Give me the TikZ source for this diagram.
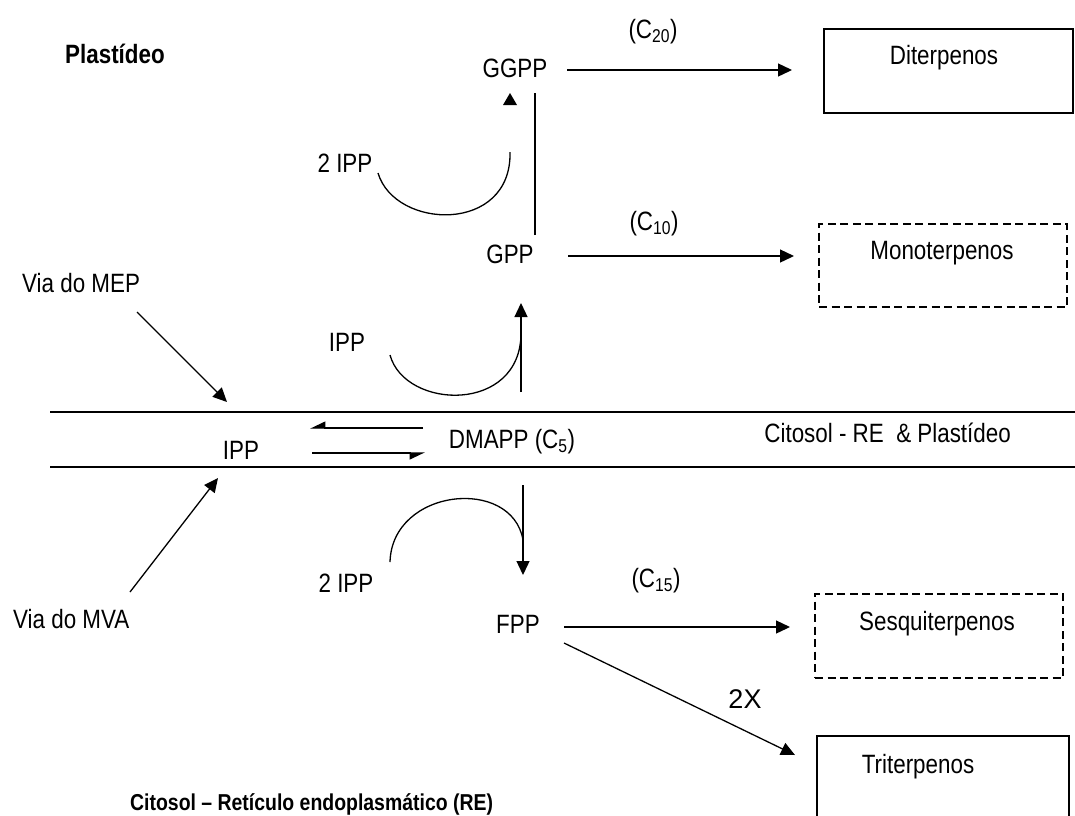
\documentclass[tikz,border=0pt]{standalone}
\usepackage{fontspec}
\setmainfont{Liberation Sans}[FakeStretch=0.845]
\newfontfamily\widefont{Liberation Sans}
\usetikzlibrary{arrows.meta}
\tikzset{
  lbl/.style={inner sep=0pt, anchor=base, font=\fontsize{26.5}{30}\selectfont},
  blbl/.style={inner sep=0pt, anchor=base west, font=\fontsize{26.5}{30}\selectfont\bfseries},
  ln/.style={line width=1.3pt},
  arr/.style={line width=1.3pt, -{Triangle[length=14pt,width=13pt]}},
  harpL/.style={line width=1.3pt, -{Triangle[length=14pt,width=13pt,harpoon,swap]}},
  solidbox/.style={draw, line width=1.6pt},
  dashbox/.style={draw, line width=2pt, dash pattern=on 8pt off 4.5pt},
}
\begin{document}
\begin{tikzpicture}[x=1pt,y=1pt]
\path[use as bounding box] (0,0) rectangle (1075,-815);
\clip (0,0) rectangle (1075,-815);

% region labels
\node[blbl] (plast) at (65,-63) {Plastídeo};
\node[blbl, font=\fontsize{23}{27}\selectfont\bfseries] (cytre) at (130,-810) {Citosol – Retículo endoplasmático (RE)};

% membrane band
\coordinate (bandTL) at (50,-412);
\coordinate (bandTR) at (1075,-412);
\coordinate (bandBL) at (50,-467);
\coordinate (bandBR) at (1075,-467);
\draw[ln] (bandTL) -- (bandTR);
\draw[ln] (bandBL) -- (bandBR);
\node[lbl, anchor=base east] (band) at (1011,-442) {Citosol - RE~ \& Plastídeo};

% band contents
\node[lbl] (ipp) at (241,-459) {IPP};
\node[lbl] (dmapp) at (512,-448) {DMAPP (C\textsubscript{5})};
\coordinate (h1s) at (423,-428); \coordinate (h1e) at (310,-428);
\coordinate (h2s) at (312,-453); \coordinate (h2e) at (425,-453);
\draw[harpL] (h1s) -- (h1e);
\draw[harpL] (h2s) -- (h2e);

% entry pathways
\node[lbl, anchor=base west] (mep) at (22,-292) {Via do MEP};
\node[lbl, anchor=base west] (mva) at (13,-628) {Via do MVA};
\coordinate (mepS) at (137,-312); \coordinate (mepE) at (227,-402);
\coordinate (mvaS) at (130,-592); \coordinate (mvaE) at (218,-478);
\draw[arr] (mepS) -- (mepE);
\draw[arr] (mvaS) -- (mvaE);

% plastid: DMAPP -> GPP
\node[lbl] (ipp1) at (347,-351) {IPP};
\coordinate (upS) at (521,-392); \coordinate (upE) at (521,-303);
\coordinate (arc1S) at (390,-355); \coordinate (arc1E) at (521,-333);
\draw[arr] (upS) -- (upE);
\draw[ln] (arc1S) .. controls (405,-410) and (521,-414) .. (arc1E);

\node[lbl] (gpp) at (510,-263) {GPP};
\node[lbl] (c10) at (654,-230) {(C\textsubscript{10})};
\coordinate (gppA) at (568,-256); \coordinate (monoA) at (794,-256);
\draw[arr] (gppA) -- (monoA);
\node[dashbox, minimum width=248pt, minimum height=83pt, inner sep=0pt, anchor=north west] (mono) at (818,-223) {};
\node[lbl] (monot) at (942,-259) {Monoterpenos};

% GPP -> GGPP
\coordinate (vS) at (535,-235); \coordinate (vE) at (535,-93);
\draw[ln] (vS) -- (vE);
\fill (503,-105) -- (517,-105) -- (510,-93) -- cycle;
\node[lbl] (ipp2) at (345,-172) {2 IPP};
\coordinate (arc2S) at (378,-173); \coordinate (arc2E) at (510,-152);
\draw[ln] (arc2S) .. controls (395,-230) and (512,-234) .. (arc2E);

\node[lbl] (ggpp) at (515,-77) {GGPP};
\node[lbl] (c20) at (653,-38) {(C\textsubscript{20})};
\coordinate (ggppA) at (567,-70); \coordinate (diA) at (792,-70);
\draw[arr] (ggppA) -- (diA);
\node[solidbox, minimum width=249pt, minimum height=84pt, inner sep=0pt, anchor=north west] (di) at (823,-28) {};
\node[lbl] (dit) at (944,-64) {Diterpenos};

% cytosol: DMAPP -> FPP
\coordinate (dnS) at (523,-485); \coordinate (dnE) at (523,-575);
\draw[arr] (dnS) -- (dnE);
\node[lbl] (ipp3) at (346,-592) {2 IPP};
\coordinate (arc3S) at (390,-562); \coordinate (arc3E) at (523,-540);
\draw[ln] (arc3S) .. controls (392,-488) and (512,-476) .. (arc3E);

\node[lbl] (fpp) at (518,-633) {FPP};
\node[lbl] (c15) at (656,-587) {(C\textsubscript{15})};
\coordinate (fppA) at (564,-627); \coordinate (sesA) at (790,-627);
\draw[arr] (fppA) -- (sesA);
\node[dashbox, minimum width=248pt, minimum height=84pt, inner sep=0pt, anchor=north west] (ses) at (814,-593) {};
\node[lbl] (sest) at (937,-630) {Sesquiterpenos};

\coordinate (fppB) at (564,-643); \coordinate (triA) at (795,-755);
\draw[arr] (fppB) -- (triA);
\node[lbl, font=\widefont\fontsize{27}{31}\selectfont] (twox) at (745,-708) {2X};
\node[solidbox, minimum width=252pt, minimum height=100pt, inner sep=0pt, anchor=north west] (tri) at (816,-735) {};
\node[lbl] (trit) at (918,-773) {Triterpenos};
\end{tikzpicture}
\end{document}
